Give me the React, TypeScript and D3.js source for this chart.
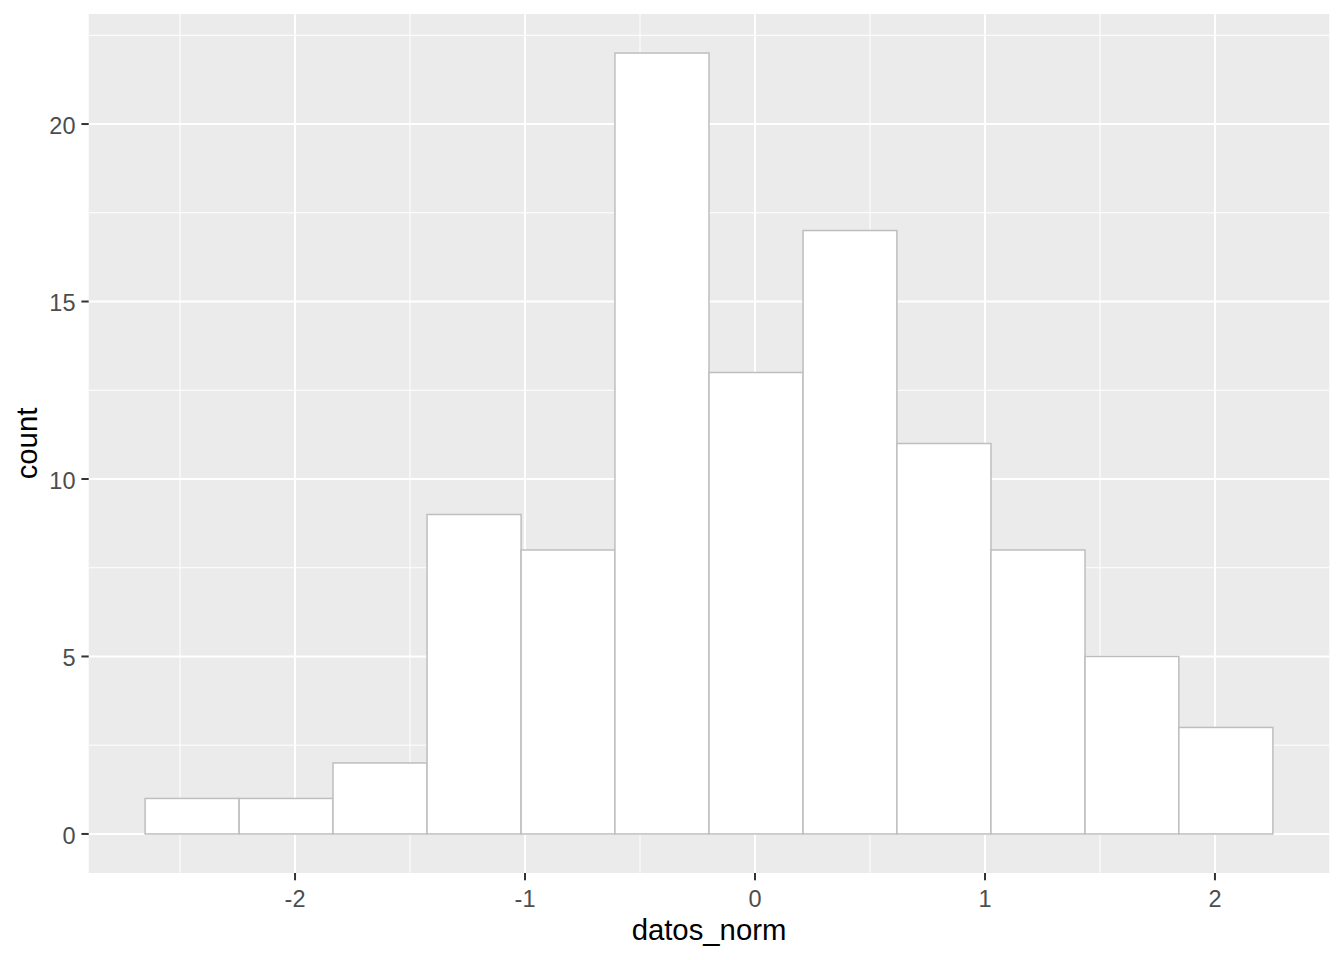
import React from "react";
import * as d3 from "d3";

const binEdges = [-2.652, -2.243, -1.835, -1.426, -1.017, -0.609, -0.2, 0.209, 0.617, 1.026, 1.435, 1.843, 2.252];
const counts = [1, 1, 2, 9, 8, 22, 13, 17, 11, 8, 5, 3];
const xTicks = [-2, -1, 0, 1, 2];
const xMinor = [-2.5, -1.5, -0.5, 0.5, 1.5];
const yTicks = [0, 5, 10, 15, 20];
const yMinor = [2.5, 7.5, 12.5, 17.5, 22.5];

const W = 1344;
const H = 960;
const panel = { left: 88.7, right: 1329.3, top: 14, bottom: 873 };

export default function App() {
  const xMin = binEdges[0];
  const xMax = binEdges[binEdges.length - 1];
  const xPad = (xMax - xMin) * 0.05;
  const yMax = d3.max(counts) as number;
  const yPad = yMax * 0.05;
  const x = d3.scaleLinear().domain([xMin - xPad, xMax + xPad]).range([panel.left, panel.right]);
  const y = d3.scaleLinear().domain([-yPad, yMax + yPad]).range([panel.bottom, panel.top]);
  const font = "'Liberation Sans', Arial, sans-serif";
  const tickLen = 7.3;
  const tickCol = "#333333";

  return (
    <svg width={W} height={H} style={{ position: "absolute", left: 0, top: 0, background: "#FFFFFF" }} fontFamily={font}>
      <rect x={panel.left} y={panel.top} width={panel.right - panel.left} height={panel.bottom - panel.top} fill="#EBEBEB" />
      {xMinor.map((v) => (
        <line key={"xm" + v} x1={x(v)} x2={x(v)} y1={panel.top} y2={panel.bottom} stroke="#FFFFFF" strokeWidth={1} />
      ))}
      {yMinor.map((v) => (
        <line key={"ym" + v} y1={y(v)} y2={y(v)} x1={panel.left} x2={panel.right} stroke="#FFFFFF" strokeWidth={1} />
      ))}
      {xTicks.map((v) => (
        <line key={"xg" + v} x1={x(v)} x2={x(v)} y1={panel.top} y2={panel.bottom} stroke="#FFFFFF" strokeWidth={2} />
      ))}
      {yTicks.map((v) => (
        <line key={"yg" + v} y1={y(v)} y2={y(v)} x1={panel.left} x2={panel.right} stroke="#FFFFFF" strokeWidth={2} />
      ))}
      {counts.map((c, i) => (
        <rect
          key={"b" + i}
          x={x(binEdges[i])}
          y={y(c)}
          width={x(binEdges[i + 1]) - x(binEdges[i])}
          height={y(0) - y(c)}
          fill="#FFFFFF"
          stroke="#BEBEBE"
          strokeWidth={1.5}
        />
      ))}
      {xTicks.map((v) => (
        <g key={"xt" + v}>
          <line x1={x(v)} x2={x(v)} y1={panel.bottom} y2={panel.bottom + tickLen} stroke={tickCol} strokeWidth={2} />
          <text x={x(v)} y={907} textAnchor="middle" fontSize={23.5} fill="#4D4D4D">
            {v < 0 ? "-" + Math.abs(v) : String(v)}
          </text>
        </g>
      ))}
      {yTicks.map((v) => (
        <g key={"yt" + v}>
          <line x1={panel.left - tickLen} x2={panel.left} y1={y(v)} y2={y(v)} stroke={tickCol} strokeWidth={2} />
          <text x={panel.left - tickLen - 5.9} y={y(v) + 9.6} textAnchor="end" fontSize={23.5} fill="#4D4D4D">
            {v}
          </text>
        </g>
      ))}
      <text x={(panel.left + panel.right) / 2} y={940} textAnchor="middle" fontSize={29.3} fill="#000000">
        datos_norm
      </text>
      <text
        transform={`translate(37,${(panel.top + panel.bottom) / 2}) rotate(-90)`}
        textAnchor="middle"
        fontSize={29.3}
        fill="#000000"
      >
        count
      </text>
    </svg>
  );
}
